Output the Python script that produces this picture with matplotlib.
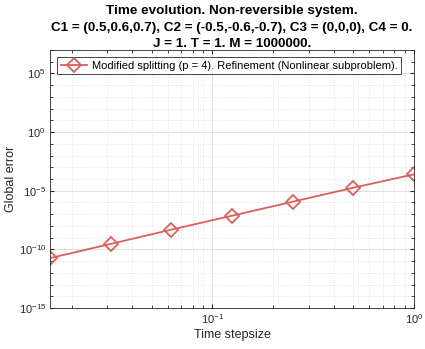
import numpy as np
import matplotlib.pyplot as plt
from matplotlib.ticker import LogLocator, NullFormatter

# data
stepsize = [1/64, 1/32, 1/16, 1/8, 1/4, 1/2, 1]
glob_err = [1.8e-11, 2.9e-10, 4.8e-9, 7.4e-8, 1.15e-6, 1.8e-5, 2.5e-4]
label = 'Modified splitting (p = 4). Refinement (Nonlinear subproblem).'
title = ('Time evolution. Non-reversible system.\n'
         'C1 = (0.5,0.6,0.7), C2 = (-0.5,-0.6,-0.7), C3 = (0,0,0), C4 = 0.\n'
         'J = 1. T = 1. M = 1000000.')

plt.rcParams['font.family'] = ['Liberation Sans', 'DejaVu Sans']

fig = plt.figure(figsize=(4.25, 3.49), dpi=100)
ax = fig.add_axes([50/425, 41/349, 364/425, 258/349])

ax.loglog(stepsize, glob_err, color='#d9605e', lw=1.3, marker='D', ms=7.5,
          mfc='none', mew=1.3, label=label)

ax.set_xlim(1/64, 1)
ax.set_ylim(1e-15, 1e7)
ax.set_yticks([1e-15, 1e-10, 1e-5, 1e0, 1e5])
ax.yaxis.set_minor_locator(LogLocator(base=10, subs=(1.0,), numticks=40))
ax.yaxis.set_minor_formatter(NullFormatter())
ax.xaxis.set_minor_locator(LogLocator(base=10, subs=np.arange(2, 10), numticks=20))
ax.xaxis.set_minor_formatter(NullFormatter())

ax.grid(True, which='major', color='#e0e0e0', lw=0.7)
ax.grid(True, which='minor', color='#d8d8d8', lw=0.6, ls=(0, (1, 2)))
ax.set_axisbelow(True)
ax.tick_params(which='both', direction='in', top=True, right=True,
               labelsize=8, colors='#262626', length=3, pad=3)
ax.tick_params(which='minor', length=2)
for s in ax.spines.values():
    s.set_color('#262626')
    s.set_linewidth(0.6)

ax.set_xlabel('Time stepsize', fontsize=9, color='#262626', labelpad=2)
ax.set_ylabel('Global error', fontsize=9, color='#262626', labelpad=1)
ax.set_title(title, fontsize=9.7, fontweight='bold', linespacing=1.5, pad=2)

leg = ax.legend(loc='upper left', fontsize=8, fancybox=False, framealpha=1,
                edgecolor='#262626', borderpad=0.35, handlelength=2.4,
                borderaxespad=0.6, handletextpad=0.4)
leg.get_frame().set_linewidth(0.6)

plt.savefig('out.png', dpi=100)
